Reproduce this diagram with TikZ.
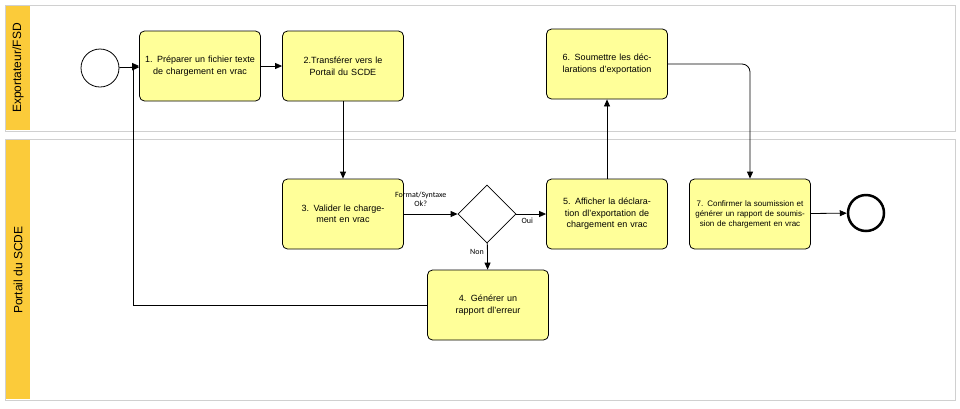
\documentclass[tikz,border=0pt]{standalone}
\usepackage{fontspec}
\setmainfont{Liberation Sans}
\newfontfamily\lblfont{Carlito}
\usetikzlibrary{arrows.meta, shapes.geometric}
\definecolor{laneyellow}{HTML}{FBCB3A}
\definecolor{taskyellow}{HTML}{FFFF99}
\definecolor{lanegray}{HTML}{D0D0D0}
\tikzset{
    task/.style={draw, thick, rounded corners=5pt, fill=taskyellow, minimum width=121pt,
        minimum height=70pt, align=center, text width=112pt, font=\fontsize{9}{11.5}\selectfont},
    flow/.style={-{Triangle[length=7pt,width=6pt]}, thick},
    lbl/.style={font=\lblfont\fontsize{8}{9}\selectfont, align=center}
}
\begin{document}
\begin{tikzpicture}[x=1pt, y=-1pt]
    % Frame
    \useasboundingbox (0,0) rectangle (960,408);
    % Lanes
    \draw[lanegray, thick] (5,5) rectangle (955,131);
    \draw[lanegray, thick] (5,139) rectangle (955,400);
    \fill[laneyellow] (6,6) rectangle (30,130);
    \fill[laneyellow] (6,140) rectangle (30,399);
    \node[rotate=90, font=\fontsize{12}{14}\selectfont] (lane1) at (18,68) {Exportateur/FSD};
    \node[rotate=90, font=\fontsize{12}{14}\selectfont] (lane2) at (18,270) {Portail du SCDE};
    % Events
    \node[draw, circle, thick, minimum size=38pt, inner sep=0pt] (start) at (100,68) {};
    \node[draw, circle, line width=2.5pt, minimum size=36pt, inner sep=0pt] (stop) at (866,213) {};
    % Tasks
    \node[task] (t1) at (200,66) {1. Préparer un fichier texte de chargement en vrac};
    \node[task] (t2) at (343,66) {2.Transférer vers le Portail du SCDE};
    \node[task] (t6) at (607,64) {6. Soumettre les déclarations d'exportation};
    \node[task] (t3) at (343,214) {3. Valider le chargement en vrac};
    \node[task] (t5) at (607,214) {5. Afficher la déclaration dl'exportation de chargement en vrac};
    \node[task, font=\fontsize{8}{10}\selectfont] (t7) at (750,214) {7. Confirmer la soumission et générer un rapport de soumission de chargement en vrac};
    \node[task] (t4) at (488,305) {4. Générer un rapport dl'erreur};
    % Gateway
    \node[draw, thick, diamond, minimum size=58pt, inner sep=0pt] (gw) at (487,214) {};
    % Flows
    \coordinate (back) at (133,305);
    \draw[flow] (start) -- (t1);
    \draw[flow] (t1) -- (t2);
    \draw[flow] (t2) -- (t3);
    \draw[flow] (t3) -- node[lbl, above, xshift=-10pt, yshift=4pt] {Format/Syntaxe\\Ok?} (gw);
    \draw[flow] (gw) -- node[lbl, below, xshift=-4pt] {Oui} (t5);
    \draw[flow] (gw) -- node[lbl, left, yshift=4pt] {Non} (t4);
    \draw[flow] (t4.west) -- (back) -- (back |- t1.west) -- (t1.west);
    \draw[flow] (t5) -- (t6);
    \draw[flow, rounded corners=8pt] (t6.east) -- (t7.north |- t6.east) -- (t7.north);
    \draw[flow] (t7) -- (stop);
\end{tikzpicture}
\end{document}
